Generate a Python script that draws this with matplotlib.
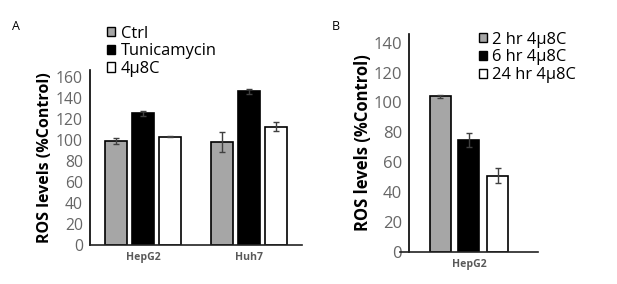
import numpy as np
import matplotlib
matplotlib.use("Agg")
import matplotlib.pyplot as plt
from matplotlib.patches import Patch

plt.rcParams['font.family'] = ['Open Sans', 'DejaVu Sans']

# panel A data
cell_lines = ["HepG2", "Huh7"]
a_series = ["Ctrl", "Tunicamycin", "4\u03bc8C"]
ctrl = [99, 98]
ctrl_err = [2.7, 9.5]
tunicamycin = [125, 146]
tunicamycin_err = [2.0, 2.5]
c4u8 = [103, 112.5]
c4u8_err = [0.5, 4.3]

# panel B data
b_category = ["HepG2"]
b_series = ["2 hr 4\u03bc8C", "6 hr 4\u03bc8C", "24 hr 4\u03bc8C"]
b_vals = [104, 75, 51]
b_err = [0.8, 4.7, 5.2]

colors = ["#a6a6a6", "#000000", "#ffffff"]
tick_gray = "#666666"
err_kw = dict(ecolor="#404040", elinewidth=1.0, capsize=2.5, capthick=1.0)

fig = plt.figure(figsize=(6.17, 2.84), dpi=100)

# ---- panel A ----
axA = fig.add_axes([90/617, 1-245/284, 212/617, 175/284])
x = np.arange(len(cell_lines))
w = 0.205
step = 0.255
a_vals = [ctrl, tunicamycin, c4u8]
a_errs = [ctrl_err, tunicamycin_err, c4u8_err]
for i, (v, e) in enumerate(zip(a_vals, a_errs)):
    axA.bar(x + (i-1)*step, v, w, yerr=e, color=colors[i], edgecolor="black",
            linewidth=1.2, error_kw=err_kw, label=a_series[i])
axA.set_xlim(-0.5, 1.5)
axA.set_ylim(0, 166.3)
axA.set_yticks(np.arange(0, 161, 20))
axA.set_xticks(x)
axA.set_xticklabels(cell_lines, fontsize=7.6, fontweight="bold", color="#595959")
axA.tick_params(axis="y", length=0, pad=5, labelsize=11.3, labelcolor=tick_gray)
axA.tick_params(axis="x", length=0, pad=5)
axA.set_ylabel("ROS levels (%Control)", fontsize=11.5, fontweight="bold", labelpad=2)
for s in ["top", "right"]:
    axA.spines[s].set_visible(False)
axA.spines["left"].set_linewidth(1.2)
axA.spines["bottom"].set_linewidth(1.2)
axA.spines["bottom"].set_color("#222222")

hA = [Patch(facecolor=c, edgecolor="black", linewidth=1.0) for c in colors]
fig.legend(hA, a_series, loc="upper left", bbox_to_anchor=(107/617, 1-25.5/284),
           frameon=False, fontsize=11.9, handlelength=0.5, handleheight=0.5,
           handletextpad=0.35, labelspacing=0.1, borderpad=0, borderaxespad=0)
fig.text(12/617, 1-27/284, "A", fontsize=9, va="center", ha="left")

# ---- panel B ----
axB = fig.add_axes([409/617, 1-251.7/284, 129/617, 217.7/284])
for i in range(len(b_series)):
    axB.bar((i-1)*0.222, b_vals[i], 0.163, yerr=b_err[i], color=colors[i],
            edgecolor="black", linewidth=1.2, error_kw=err_kw, label=b_series[i])
axB.set_xlim(-0.465, 0.535)
axB.set_ylim(0, 145.8)
axB.set_yticks(np.arange(0, 141, 20))
axB.set_xticks([0])
axB.set_xticklabels(b_category, fontsize=7.6, fontweight="bold", color="#595959")
axB.tick_params(axis="y", length=0, pad=5, labelsize=12, labelcolor=tick_gray)
axB.tick_params(axis="x", length=0, pad=5)
axB.set_ylabel("ROS levels (%Control)", fontsize=12, fontweight="bold", labelpad=1)
for s in ["top", "right"]:
    axB.spines[s].set_visible(False)
axB.spines["left"].set_linewidth(1.2)
axB.spines["bottom"].set_linewidth(1.2)
axB.spines["bottom"].set_color("#222222")
axB.spines["bottom"].set_bounds(-0.535, 0.535)

hB = [Patch(facecolor=c, edgecolor="black", linewidth=1.0) for c in colors]
fig.legend(hB, b_series, loc="upper left", bbox_to_anchor=(479/617, 1-31.5/284),
           frameon=False, fontsize=11.9, handlelength=0.5, handleheight=0.5,
           handletextpad=0.3, labelspacing=0.12, borderpad=0, borderaxespad=0)
fig.text(332/617, 1-27/284, "B", fontsize=9, va="center", ha="left")

fig.savefig("out.png", dpi=100)
